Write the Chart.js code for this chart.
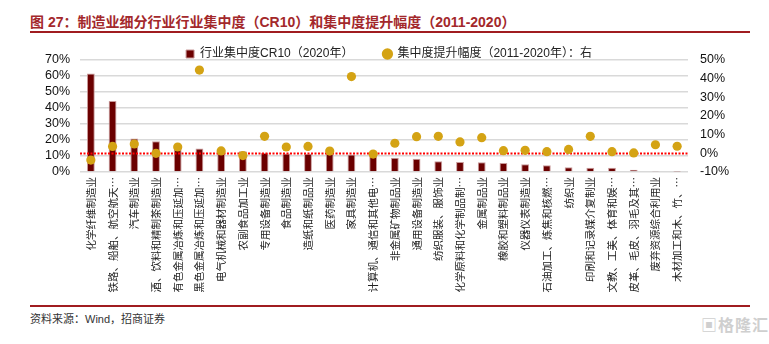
<!DOCTYPE html>
<html>
<head>
<meta charset="utf-8">
<script src="https://cdn.jsdelivr.net/npm/chart.js@4.4.1/dist/chart.umd.min.js"></script>
<style>
  body { margin: 0; background: #fff; }
  #wrap { position: relative; width: 769px; height: 344px; overflow: hidden; }
  #title {
    position: absolute; left: 30px; top: 11px;
    font: bold 14px 'Liberation Sans', 'Noto Sans CJK SC', sans-serif;
    color: #a3282b; white-space: nowrap;
  }
  .rule { position: absolute; left: 30px; width: 720px; height: 2px; background: #a01c20; }
  #source {
    position: absolute; left: 30px; top: 310px;
    font: 11px 'Liberation Sans', 'Noto Sans CJK SC', sans-serif; color: #333;
  }
  #mark {
    position: absolute; left: 701px; top: 312px;
    font: bold 16px 'Noto Sans CJK SC', sans-serif; color: #cfcfcf; letter-spacing: 1px;
  }
  canvas { position: absolute; left: 0; top: 0; }
</style>
</head>
<body>
<div id="wrap">
  <div id="title">图 27：制造业细分行业行业集中度（CR10）和集中度提升幅度（2011-2020）</div>
  <div class="rule" style="top:31px"></div>
  <canvas id="chart" width="769" height="300"></canvas>
  <div class="rule" style="top:305px"></div>
  <div id="source">资料来源：Wind，招商证券</div>
  <div id="mark">▣格隆汇</div>
</div>
<script>
// 行业名称（图中已截断的保持原样）
const industries = [
  '化学纤维制造业', '铁路、船舶、航空航天…', '汽车制造业', '酒、饮料和精制茶制造业',
  '有色金属冶炼和压延加…', '黑色金属冶炼和压延加…', '电气机械和器材制造业', '农副食品加工业',
  '专用设备制造业', '食品制造业', '造纸和纸制品业', '医药制造业', '家具制造业',
  '计算机、通信和其他电…', '非金属矿物制品业', '通用设备制造业', '纺织服装、服饰业',
  '化学原料和化学制品制…', '金属制品业', '橡胶和塑料制品业', '仪器仪表制造业',
  '石油加工、炼焦和核燃…', '纺织业', '印刷和记录媒介复制业', '文教、工美、体育和娱…',
  '皮革、毛皮、羽毛及其…', '废弃资源综合利用业', '木材加工和木、竹、…'
];

// 2020年 CR10（%，左轴）
const cr10_2020 = [
  61.5, 44.4, 21.0, 19.2, 17.1, 14.7, 13.4, 12.9, 11.8, 11.5, 11.4, 11.3, 11.0, 10.4,
  8.9, 8.3, 6.7, 6.2, 6.1, 5.6, 4.8, 4.2, 2.9, 2.7, 2.7, 1.4, 0.3, 0.2
];

// 2011-2020 集中度提升幅度（%，右轴）
const cr10Change = [
  -3.6, 3.7, 5.0, 0.0, 3.4, 44.6, 1.3, -1.2, 9.1, 3.4, 3.7, 1.2, 41.1, -0.4,
  5.4, 8.9, 9.1, 6.1, 8.4, 1.4, 1.6, 0.9, 2.1, 9.1, 0.9, 0.2, 4.6, 3.8
];

// 坐标轴刻度
const leftTickValues = [0, 10, 20, 30, 40, 50, 60, 70];
const rightTickValues = [-10, 0, 10, 20, 30, 40, 50];

const LATIN_CJK = "'Liberation Sans', 'Noto Sans CJK SC', sans-serif";

// 固定图例高度，让绘图区紧贴图例
const legendHeight = {
  id: 'legendHeight',
  beforeInit(chart) {
    const fit = chart.legend.fit;
    chart.legend.fit = function () {
      fit.call(this);
      this.height = 42;
    };
  }
};

// 右轴 0% 处的红色虚线，画在柱子之后、圆点之前
const zeroLine = {
  id: 'zeroLine',
  afterDatasetDraw(chart, args) {
    if (args.index !== 0) return;
    const { ctx, chartArea } = chart;
    const y = Math.round(chart.scales.y2.getPixelForValue(0)) + 0.5;
    ctx.save();
    ctx.strokeStyle = '#ff0000';
    ctx.lineWidth = 2;
    ctx.setLineDash([2, 1.5]);
    ctx.beginPath();
    ctx.moveTo(chartArea.left, y);
    ctx.lineTo(chartArea.right, y);
    ctx.stroke();
    ctx.restore();
  }
};

const pct = v => v + '%';

new Chart(document.getElementById('chart'), {
  data: {
    labels: industries,
    datasets: [
      {
        type: 'bar',
        label: '行业集中度CR10（2020年）',
        data: cr10_2020,
        yAxisID: 'y',
        backgroundColor: '#6b0000',
        borderColor: '#c99a9a',
        borderWidth: 1,
        barPercentage: 0.36,
        categoryPercentage: 1,
        pointStyle: 'rect',
        order: 2
      },
      {
        type: 'line',
        label: '集中度提升幅度（2011-2020年）：右',
        data: cr10Change,
        yAxisID: 'y2',
        showLine: false,
        backgroundColor: '#d4a314',
        borderColor: '#d4a314',
        borderWidth: 0,
        pointStyle: 'circle',
        pointRadius: 4.6,
        pointBackgroundColor: '#d4a314',
        pointBorderWidth: 0,
        order: 1
      }
    ]
  },
  options: {
    responsive: false,
    animation: false,
    layout: { padding: { top: 18, left: 30, right: 21, bottom: 0 } },
    plugins: {
      legend: {
        position: 'top',
        labels: {
          usePointStyle: true,
          boxWidth: 8,
          boxHeight: 8,
          padding: 30,
          color: '#222',
          font: { size: 12, family: LATIN_CJK },
          sort: (a, b) => a.datasetIndex - b.datasetIndex
        }
      },
      tooltip: { enabled: false }
    },
    scales: {
      x: {
        grid: { display: false, drawTicks: false },
        border: { display: false },
        ticks: {
          autoSkip: false,
          minRotation: 90,
          maxRotation: 90,
          padding: 5,
          color: '#222',
          font: { size: 10.5, family: "'Noto Sans CJK SC', sans-serif" }
        },
        afterFit(scale) { scale.height = 128; }
      },
      y: {
        position: 'left',
        min: leftTickValues[0],
        max: leftTickValues[leftTickValues.length - 1],
        grid: { color: '#d9d9d9', lineWidth: 1.5, drawTicks: false },
        border: { display: false },
        ticks: {
          autoSkip: false,
          padding: 10,
          color: '#111',
          font: { size: 12.5, family: LATIN_CJK },
          callback: pct
        },
        afterBuildTicks(scale) { scale.ticks = leftTickValues.map(value => ({ value })); },
        afterFit(scale) { scale.width = 50; }
      },
      y2: {
        position: 'right',
        min: rightTickValues[0],
        max: rightTickValues[rightTickValues.length - 1],
        grid: { drawOnChartArea: false, drawTicks: false },
        border: { display: false },
        ticks: {
          autoSkip: false,
          padding: 12,
          color: '#111',
          font: { size: 12.5, family: LATIN_CJK },
          callback: pct
        },
        afterBuildTicks(scale) { scale.ticks = rightTickValues.map(value => ({ value })); },
        afterFit(scale) { scale.width = 60; }
      }
    }
  },
  plugins: [legendHeight, zeroLine]
});
</script>
</body>
</html>
